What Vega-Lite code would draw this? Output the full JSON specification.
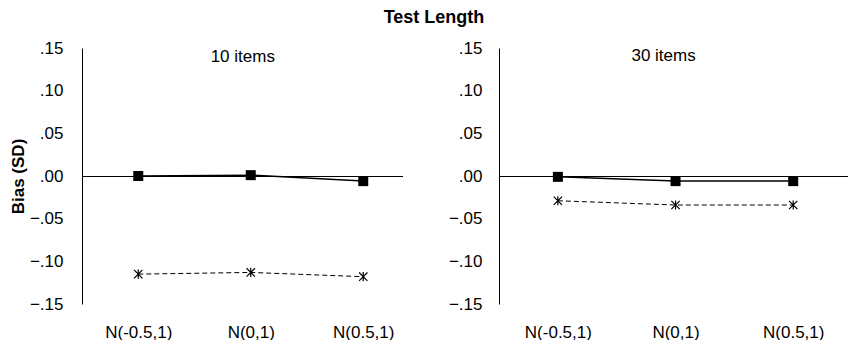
{
  "$schema": "https://vega.github.io/schema/vega-lite/v6.json",
  "padding": {"left": 9, "top": 9, "right": 0, "bottom": 0},
  "background": "white",
  "title": {"text": "Test Length", "fontSize": 18, "font": "Liberation Sans", "fontWeight": "bold", "anchor": "middle", "offset": 12, "color": "black", "dx": 5},
  "datasets": {
    "d10": [
      {"dist": "N(-0.5,1)", "series": "A", "bias": 0.000},
      {"dist": "N(0,1)", "series": "A", "bias": 0.001},
      {"dist": "N(0.5,1)", "series": "A", "bias": -0.006},
      {"dist": "N(-0.5,1)", "series": "B", "bias": -0.115},
      {"dist": "N(0,1)", "series": "B", "bias": -0.113},
      {"dist": "N(0.5,1)", "series": "B", "bias": -0.118}
    ],
    "d30": [
      {"dist": "N(-0.5,1)", "series": "A", "bias": -0.001},
      {"dist": "N(0,1)", "series": "A", "bias": -0.006},
      {"dist": "N(0.5,1)", "series": "A", "bias": -0.006},
      {"dist": "N(-0.5,1)", "series": "B", "bias": -0.029},
      {"dist": "N(0,1)", "series": "B", "bias": -0.034},
      {"dist": "N(0.5,1)", "series": "B", "bias": -0.034}
    ]
  },
  "spacing": 44,
  "hconcat": [
    {
      "width": 321,
      "height": 256,
      "layer": [
        {"data": {"values": [{"ref": 0}]}, "mark": {"type": "rule", "color": "black", "strokeWidth": 1, "yOffset": 0.5}, "encoding": {"y": {"field": "ref", "type": "quantitative", "scale": {"domain": [-0.15, 0.15], "nice": false, "zero": false}, "axis": {"title": "Bias (SD)", "values": [-0.15, -0.1, -0.05, 0, 0.05, 0.1, 0.15], "labelExpr": "replace(format(datum.value, '.2f'), '0.', '.')", "labelPadding": 19, "titlePadding": 2}}}},
        {
          "data": {"name": "d10"},
          "encoding": {
            "x": {"field": "dist", "type": "nominal", "sort": ["N(-0.5,1)", "N(0,1)", "N(0.5,1)"], "scale": {"type": "point", "padding": 0.4267, "align": 0.586}, "axis": {"title": null, "labelPadding": 20}},
            "y": {"field": "bias", "type": "quantitative", "title": "Bias (SD)"}
          },
          "layer": [
            {"transform": [{"filter": "datum.series == 'A'"}], "mark": {"type": "line", "color": "black", "strokeWidth": 1.5}},
            {"transform": [{"filter": "datum.series == 'A'"}], "mark": {"type": "point", "shape": "square", "filled": true, "color": "black", "size": 100, "opacity": 1}},
            {"transform": [{"filter": "datum.series == 'B'"}], "mark": {"type": "line", "color": "black", "strokeWidth": 1, "strokeDash": [5, 3]}},
            {"transform": [{"filter": "datum.series == 'B'"}], "mark": {"type": "point", "shape": "M-1,-1L1,1M-1,1L1,-1M0,-1.1L0,1.1", "filled": false, "stroke": "black", "strokeWidth": 1.2, "size": 70, "opacity": 1}},
            {"transform": [{"filter": "datum.series == 'A' && datum.dist == 'N(0,1)'"}], "mark": {"type": "text", "fontSize": 17, "fontWeight": "normal", "color": "black", "dx": -8, "baseline": "middle", "text": "10 items"}, "encoding": {"y": {"datum": 0.14, "type": "quantitative"}}}
          ]
        }
      ]
    },
    {
      "width": 349,
      "height": 256,
      "layer": [
        {"data": {"values": [{"ref": 0}]}, "mark": {"type": "rule", "color": "black", "strokeWidth": 1, "yOffset": 0.5}, "encoding": {"y": {"field": "ref", "type": "quantitative", "scale": {"domain": [-0.15, 0.15], "nice": false, "zero": false}, "axis": {"title": null, "values": [-0.15, -0.1, -0.05, 0, 0.05, 0.1, 0.15], "labelExpr": "replace(format(datum.value, '.2f'), '0.', '.')", "labelPadding": 17}}}},
        {
          "data": {"name": "d30"},
          "encoding": {
            "x": {"field": "dist", "type": "nominal", "sort": ["N(-0.5,1)", "N(0,1)", "N(0.5,1)"], "scale": {"type": "point", "padding": 0.483, "align": 0.518}, "axis": {"title": null, "labelPadding": 20}},
            "y": {"field": "bias", "type": "quantitative", "title": null}
          },
          "layer": [
            {"transform": [{"filter": "datum.series == 'A'"}], "mark": {"type": "line", "color": "black", "strokeWidth": 1.5}},
            {"transform": [{"filter": "datum.series == 'A'"}], "mark": {"type": "point", "shape": "square", "filled": true, "color": "black", "size": 100, "opacity": 1}},
            {"transform": [{"filter": "datum.series == 'B'"}], "mark": {"type": "line", "color": "black", "strokeWidth": 1, "strokeDash": [5, 3]}},
            {"transform": [{"filter": "datum.series == 'B'"}], "mark": {"type": "point", "shape": "M-1,-1L1,1M-1,1L1,-1M0,-1.1L0,1.1", "filled": false, "stroke": "black", "strokeWidth": 1.2, "size": 70, "opacity": 1}},
            {"transform": [{"filter": "datum.series == 'A' && datum.dist == 'N(0,1)'"}], "mark": {"type": "text", "fontSize": 17, "fontWeight": "normal", "color": "black", "dx": -12, "baseline": "middle", "text": "30 items"}, "encoding": {"y": {"datum": 0.141, "type": "quantitative"}}}
          ]
        }
      ]
    }
  ],
  "config": {
    "font": "Liberation Sans",
    "view": {"stroke": null},
    "axis": {"grid": false, "ticks": false, "labelFontSize": 17, "labelColor": "black", "titleColor": "black", "titleFontSize": 17, "titleFontWeight": "bold", "domainColor": "black", "domainWidth": 1},
    "axisX": {"domain": false, "labelAngle": 0},
    "axisY": {"domain": true}
  }
}
